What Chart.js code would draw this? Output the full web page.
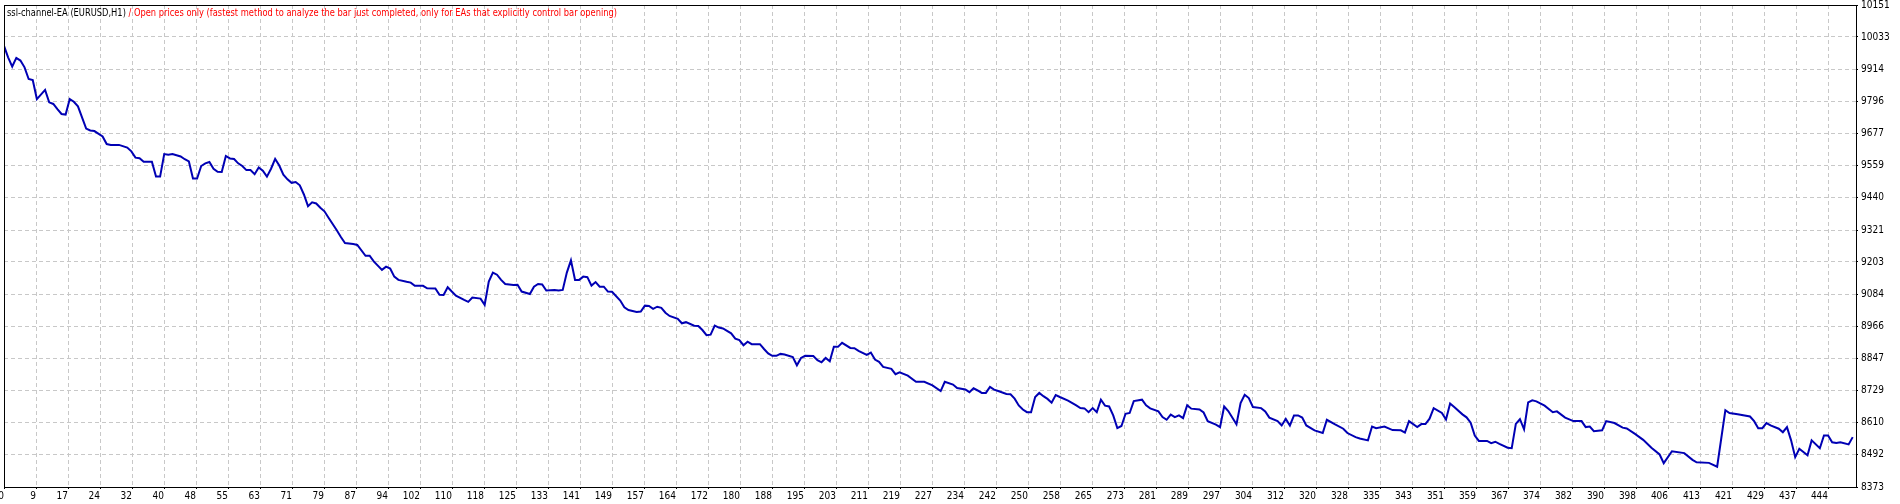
<!DOCTYPE html>
<html>
<head>
<meta charset="utf-8">
<title>ssl-channel-EA balance</title>
<script src="https://cdn.jsdelivr.net/npm/chart.js@4.4.1/dist/chart.umd.min.js"></script>
<style>
    html, body { margin: 0; padding: 0; background: #ffffff; }
    canvas { display: block; }
</style>
</head>
<body>
<canvas id="balance" width="1900" height="504"></canvas>
<script>
// title pieces (black + red part)
const titleMain = "ssl-channel-EA (EURUSD,H1)";
const titleMode = " / Open prices only (fastest method to analyze the bar just completed, only for EAs that explicitly control bar opening)";

// trade number -> balance
const trades = [
    0, 1, 2, 3, 4, 5, 6, 7, 8, 10, 11, 12, 13, 14, 15, 16, 17, 18, 20, 21,
    22, 24, 25, 26, 28, 30, 31, 32, 33, 34, 36, 37, 38, 39, 40, 41, 43, 44, 45, 46,
    47, 48, 49, 50, 51, 52, 53, 54, 55, 56, 57, 58, 59, 60, 61, 62, 63, 64, 65, 66,
    67, 68, 69, 70, 71, 72, 73, 74, 75, 76, 77, 78, 79, 81, 82, 83, 85, 86, 88, 89,
    90, 92, 93, 94, 95, 96, 98, 99, 100, 102, 103, 105, 106, 107, 108, 109, 110, 112, 113, 114,
    116, 117, 118, 119, 120, 121, 122, 124, 125, 126, 128, 129, 130, 131, 132, 134, 135, 136, 137, 138,
    139, 140, 141, 142, 143, 144, 145, 146, 147, 148, 150, 151, 152, 154, 155, 156, 157, 158, 159, 160,
    161, 162, 164, 165, 166, 168, 169, 170, 171, 172, 173, 174, 175, 177, 178, 179, 180, 181, 182, 184,
    185, 186, 187, 188, 189, 190, 192, 193, 194, 195, 197, 198, 199, 200, 201, 202, 203, 204, 206, 207,
    208, 210, 211, 212, 213, 214, 216, 217, 218, 220, 222, 224, 226, 228, 229, 231, 232, 234, 235, 236,
    237, 238, 239, 240, 241, 242, 244, 245, 246, 247, 248, 249, 250, 251, 252, 253, 254, 255, 256, 257,
    259, 261, 262, 263, 264, 265, 266, 267, 268, 269, 270, 271, 272, 273, 274, 275, 277, 278, 279, 281,
    282, 283, 284, 285, 286, 287, 288, 289, 291, 292, 293, 295, 296, 297, 298, 300, 301, 302, 303, 304,
    306, 307, 308, 310, 311, 312, 313, 314, 315, 316, 317, 319, 321, 322, 324, 326, 327, 329, 330, 332,
    333, 334, 336, 338, 340, 341, 342, 344, 345, 346, 347, 348, 350, 351, 352, 353, 355, 356, 357, 358,
    359, 361, 362, 363, 364, 366, 367, 368, 369, 370, 371, 372, 373, 375, 377, 378, 380, 382, 384, 385,
    386, 387, 389, 390, 392, 394, 395, 397, 399, 401, 403, 404, 406, 409, 411, 412, 415, 417, 419, 420,
    422, 425, 426, 427, 428, 429, 430, 432, 433, 434, 435, 436, 437, 439, 440, 442, 443, 444, 445, 446,
    447, 449, 450
];
const balance = [
    10000, 9958, 9924, 9956, 9946, 9921, 9878, 9874, 9804, 9838, 9792, 9786, 9767, 9749, 9747, 9804, 9794, 9777, 9695, 9688,
    9686, 9666, 9638, 9635, 9635, 9625, 9611, 9588, 9586, 9573, 9573, 9518, 9518, 9601, 9599, 9601, 9592, 9582, 9574, 9511,
    9511, 9557, 9567, 9572, 9547, 9536, 9535, 9594, 9585, 9583, 9567, 9557, 9542, 9542, 9527, 9552, 9540, 9518, 9547, 9583,
    9559, 9525, 9508, 9495, 9498, 9486, 9452, 9409, 9423, 9419, 9403, 9390, 9366, 9320, 9295, 9273, 9269, 9266, 9226, 9226,
    9205, 9174, 9186, 9179, 9149, 9137, 9130, 9127, 9115, 9115, 9106, 9105, 9082, 9081, 9110, 9094, 9079, 9063, 9056, 9072,
    9068, 9045, 9131, 9164, 9156, 9137, 9122, 9118, 9119, 9094, 9085, 9112, 9122, 9120, 9098, 9100, 9098, 9100, 9164, 9209,
    9137, 9137, 9149, 9147, 9116, 9129, 9112, 9112, 9094, 9093, 9061, 9036, 9026, 9019, 9020, 9042, 9041, 9030, 9038, 9034,
    9016, 9004, 8993, 8977, 8981, 8968, 8967, 8952, 8933, 8935, 8968, 8961, 8958, 8940, 8920, 8915, 8896, 8909, 8900, 8900,
    8882, 8866, 8857, 8857, 8864, 8862, 8852, 8822, 8849, 8857, 8856, 8841, 8833, 8849, 8837, 8890, 8890, 8905, 8886, 8885,
    8875, 8860, 8869, 8843, 8835, 8816, 8809, 8789, 8796, 8784, 8761, 8761, 8748, 8727, 8761, 8751, 8738, 8733, 8723, 8737,
    8729, 8720, 8720, 8742, 8732, 8727, 8716, 8715, 8699, 8674, 8659, 8649, 8649, 8705, 8720, 8708, 8698, 8684, 8712, 8705,
    8692, 8674, 8664, 8663, 8649, 8664, 8649, 8695, 8673, 8670, 8637, 8590, 8598, 8643, 8646, 8690, 8695, 8674, 8663, 8652,
    8631, 8621, 8640, 8631, 8637, 8627, 8675, 8662, 8659, 8648, 8616, 8603, 8594, 8670, 8653, 8604, 8683, 8713, 8701, 8668,
    8664, 8652, 8629, 8616, 8600, 8624, 8600, 8637, 8637, 8629, 8600, 8582, 8572, 8621, 8604, 8588, 8572, 8557, 8552, 8545,
    8596, 8590, 8596, 8583, 8582, 8574, 8616, 8594, 8605, 8605, 8625, 8664, 8646, 8622, 8681, 8668, 8641, 8630, 8610, 8563,
    8543, 8543, 8535, 8540, 8532, 8518, 8516, 8606, 8623, 8586, 8685, 8693, 8689, 8673, 8649, 8652, 8629, 8616, 8616, 8594,
    8596, 8579, 8582, 8616, 8609, 8592, 8589, 8569, 8547, 8518, 8493, 8461, 8505, 8498, 8473, 8464, 8462, 8448, 8656, 8646,
    8641, 8633, 8616, 8590, 8590, 8609, 8600, 8588, 8575, 8594, 8545, 8483, 8514, 8490, 8545, 8516, 8563, 8563, 8538, 8535,
    8538, 8530, 8557
];

// axis labels as printed by the tester
const yTicks = [10151, 10033, 9914, 9796, 9677, 9559, 9440, 9321, 9203, 9084, 8966, 8847, 8729, 8610, 8492, 8373];
const xTicks = [
    0, 9, 17, 24, 32, 40, 48, 55, 63, 71, 79, 87, 94, 102, 110, 118, 125, 133, 141, 149,
    157, 164, 172, 180, 188, 195, 203, 211, 219, 227, 234, 242, 250, 258, 265, 273, 281, 289, 297, 304,
    312, 320, 328, 335, 343, 351, 359, 367, 374, 382, 390, 398, 406, 413, 421, 429, 437, 444
];

const FONT = "'Liberation Sans Narrow', 'DejaVu Sans Condensed', 'Liberation Sans', sans-serif";
const gridStep = xTicks[xTicks.length - 1] / (xTicks.length - 1);

Chart.defaults.font.family = FONT;
Chart.defaults.font.size = 10;
Chart.defaults.color = "#000000";

function crisp(v) {
    return Math.round(v - 0.5) + 0.5;
}

// black frame round the plot, plus the two-colour caption
const testerFrame = {
    id: "testerFrame",
    afterDraw(chart) {
        const ctx = chart.ctx;
        const a = chart.chartArea;
        ctx.save();
        ctx.strokeStyle = "#000000";
        ctx.lineWidth = 1;
        ctx.strokeRect(crisp(a.left), crisp(a.top), crisp(a.right) - crisp(a.left), crisp(a.bottom) - crisp(a.top));

        // caption is squeezed to the width the tester font takes
        ctx.font = "10px " + FONT;
        ctx.textBaseline = "middle";
        const w1 = ctx.measureText(titleMain).width;
        const w2 = ctx.measureText(titleMode).width;
        const squeeze = Math.min(1, 610 / (w1 + w2));
        const y = a.top + 8;
        ctx.translate(a.left + 3, y);
        ctx.scale(squeeze, 1);
        ctx.fillStyle = "#000000";
        ctx.fillText(titleMain, 0, 0);
        ctx.fillStyle = "#ff0000";
        ctx.fillText(titleMode, w1, 0);
        ctx.restore();
    }
};

const ctx = document.getElementById("balance").getContext("2d");
new Chart(ctx, {
    type: "line",
    data: {
        datasets: [
            {
                label: "Balance",
                data: trades.map((t, i) => ({ x: t, y: balance[i] })),
                borderColor: "#0000b4",
                borderWidth: 2,
                pointRadius: 0,
                tension: 0,
                fill: false
            }
        ]
    },
    options: {
        responsive: false,
        animation: false,
        events: [],
        layout: { padding: { left: 4, top: 5, right: 0, bottom: 0 } },
        plugins: {
            legend: { display: false },
            tooltip: { enabled: false },
            title: { display: false }
        },
        scales: {
            x: {
                type: "linear",
                min: 0,
                max: 450.8,
                afterBuildTicks: (axis) => {
                    axis.ticks = xTicks.map((lab, k) => ({ value: k * gridStep }));
                },
                afterFit: (axis) => {
                    axis.height = 17;
                    axis.paddingLeft = 0;
                    axis.paddingRight = 0;
                },
                ticks: {
                    autoSkip: false,
                    maxRotation: 0,
                    align: "end",
                    padding: 1,
                    callback: (val, idx) => String(xTicks[idx])
                },
                grid: {
                    color: "#c8c8c8",
                    lineWidth: 1,
                    tickLength: 2,
                    tickColor: "#000000"
                },
                border: { display: true, color: "#000000", width: 1, dash: [4, 3] }
            },
            y: {
                type: "linear",
                position: "right",
                min: yTicks[yTicks.length - 1],
                max: yTicks[0],
                afterBuildTicks: (axis) => {
                    axis.ticks = yTicks.map((v) => ({ value: v }));
                },
                afterFit: (axis) => {
                    axis.width = 44;
                    axis.paddingTop = 0;
                    axis.paddingBottom = 0;
                },
                ticks: {
                    autoSkip: false,
                    padding: 3,
                    callback: (val) => String(val)
                },
                grid: {
                    color: "#c8c8c8",
                    lineWidth: 1,
                    tickLength: 2,
                    tickColor: "#000000"
                },
                border: { display: true, color: "#000000", width: 1, dash: [4, 3] }
            }
        }
    },
    plugins: [testerFrame]
});
</script>
</body>
</html>
